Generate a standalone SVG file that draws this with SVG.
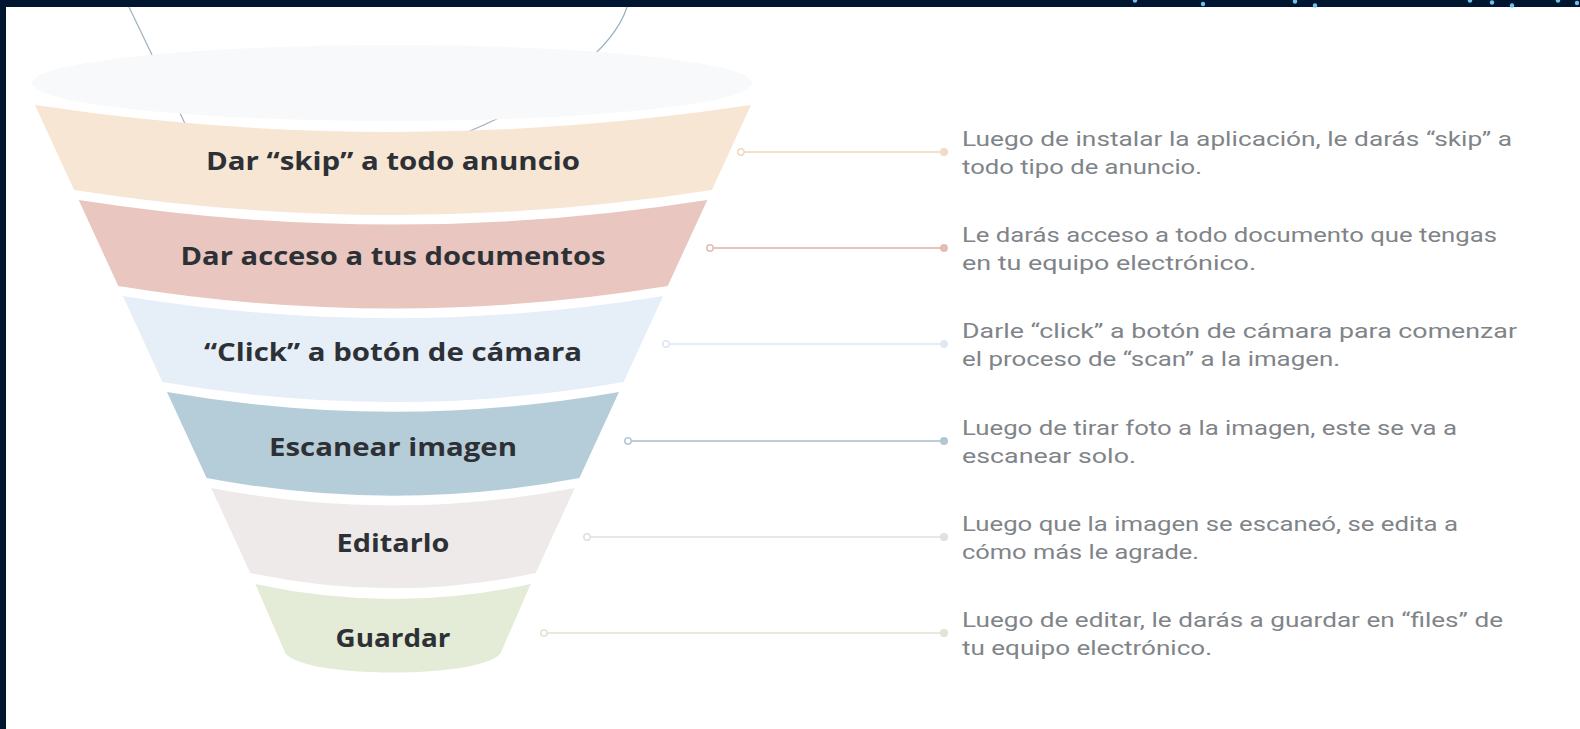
<svg xmlns="http://www.w3.org/2000/svg" width="1580" height="729" viewBox="0 0 1580 729">
<style>
.lbl{font-family:"Open Sans","Liberation Sans",sans-serif;font-weight:700;font-size:25px;fill:#2d3136;text-anchor:middle}
.desc{font-family:Roboto,"Liberation Sans",sans-serif;font-size:21px;fill:#7f8489}
.bgline{fill:none;stroke:#9ab1be;stroke-width:1.2}
.dot{fill:#6cc3ee}
.conn line{stroke-width:2}
.hollow{fill:#fff;stroke-width:1.5}
</style>
<rect width="1580" height="729" fill="#ffffff"/>
<rect x="0" y="0" width="1580" height="7" fill="#00152f"/>
<rect x="0" y="0" width="6" height="729" fill="#00152f"/>
<g id="dots">
<circle class="dot" cx="1135" cy="0.5" r="2.2"/>
<circle class="dot" cx="1203" cy="4" r="2.2"/>
<circle class="dot" cx="1295" cy="1.5" r="2.2"/>
<circle class="dot" cx="1315" cy="5.5" r="2.2"/>
<circle class="dot" cx="1470" cy="0.5" r="2.2"/>
<circle class="dot" cx="1492" cy="2.5" r="2.2"/>
<circle class="dot" cx="1512" cy="5.5" r="2.2"/>
<circle class="dot" cx="1558" cy="0.5" r="2.2"/>
<circle class="dot" cx="1577" cy="3" r="2.2"/>
</g>
<g id="background-lines">
<path class="bgline" d="M129,7 L190,134"/>
<path class="bgline" d="M627,7 C615,45 560,95 458,136"/>
</g>
<g id="funnel-top"><ellipse cx="392" cy="83" rx="360" ry="38" fill="#f8f9fa"/></g>
<g id="band1">
<path d="M35,105 Q393,159 751,105 L711.9,190 Q393,239.8 74.1,190 Z" fill="#f8e6d4"/>
<text class="lbl" x="393" y="170" textLength="374" lengthAdjust="spacingAndGlyphs">Dar “skip” a todo anuncio</text>
</g>
<g id="band2">
<path d="M78.7,200 Q393,249.2 707.3,200 L667.7,286 Q393,331 118.3,286 Z" fill="#e9c6bf"/>
<text class="lbl" x="393" y="265" textLength="425" lengthAdjust="spacingAndGlyphs">Dar acceso a tus documentos</text>
</g>
<g id="band3">
<path d="M122.9,296 Q393,340.4 663.1,296 L623.6,382 Q393,422.2 162.4,382 Z" fill="#e6eef7"/>
<text class="lbl" x="393" y="361" textLength="378" lengthAdjust="spacingAndGlyphs">“Click” a botón de cámara</text>
</g>
<g id="band4">
<path d="M167,392 Q393,431.6 619,392 L579.4,478 Q393,513.4 206.6,478 Z" fill="#b5cdd8"/>
<text class="lbl" x="393" y="456" textLength="248" lengthAdjust="spacingAndGlyphs">Escanear imagen</text>
</g>
<g id="band5">
<path d="M211.2,488 Q393,522.8 574.8,488 L535.7,573 Q393,603.6 250.3,573 Z" fill="#eeeaea"/>
<text class="lbl" x="393" y="552" textLength="113" lengthAdjust="spacingAndGlyphs">Editarlo</text>
</g>
<g id="band6">
<path d="M255.3,584 Q393,614 530.7,584 L502,650 C496,680 290,680 284,650 Z" fill="#e4ebd6"/>
<text class="lbl" x="393" y="647" textLength="115" lengthAdjust="spacingAndGlyphs">Guardar</text>
</g>
<g id="connectors" class="conn">
<line x1="741" y1="152" x2="944" y2="152" stroke="#f4dfca"/>
<circle class="hollow" cx="741" cy="152" r="3.2" stroke="#f1d9c3"/>
<circle cx="944" cy="152" r="4" fill="#f1dac6"/>
<line x1="710" y1="248" x2="944" y2="248" stroke="#e6c3bb"/>
<circle class="hollow" cx="710" cy="248" r="3.2" stroke="#e3bdb4"/>
<circle cx="944" cy="248" r="4" fill="#e3bdb5"/>
<line x1="666" y1="344" x2="944" y2="344" stroke="#e4ecf5"/>
<circle class="hollow" cx="666" cy="344" r="3.2" stroke="#dde6f0"/>
<circle cx="944" cy="344" r="4" fill="#dfe7f1"/>
<line x1="628" y1="441" x2="944" y2="441" stroke="#bccfd9"/>
<circle class="hollow" cx="628" cy="441" r="3.2" stroke="#b3c8d3"/>
<circle cx="944" cy="441" r="4" fill="#b3c7d2"/>
<line x1="587" y1="537" x2="944" y2="537" stroke="#e9e7e5"/>
<circle class="hollow" cx="587" cy="537" r="3.2" stroke="#e2dfdd"/>
<circle cx="944" cy="537" r="4" fill="#e2dfdd"/>
<line x1="544" y1="633" x2="944" y2="633" stroke="#e7ebdd"/>
<circle class="hollow" cx="544" cy="633" r="3.2" stroke="#dfe5d2"/>
<circle cx="944" cy="633" r="4" fill="#dfe5d2"/>
</g>
<g id="descriptions">
<text class="desc" x="962" y="146" textLength="550" lengthAdjust="spacingAndGlyphs">Luego de instalar la aplicación, le darás “skip” a</text>
<text class="desc" x="962" y="174" textLength="240" lengthAdjust="spacingAndGlyphs">todo tipo de anuncio.</text>
<text class="desc" x="962" y="242" textLength="535" lengthAdjust="spacingAndGlyphs">Le darás acceso a todo documento que tengas</text>
<text class="desc" x="962" y="270" textLength="294" lengthAdjust="spacingAndGlyphs">en tu equipo electrónico.</text>
<text class="desc" x="962" y="338" textLength="555" lengthAdjust="spacingAndGlyphs">Darle “click” a botón de cámara para comenzar</text>
<text class="desc" x="962" y="366" textLength="378" lengthAdjust="spacingAndGlyphs">el proceso de “scan” a la imagen.</text>
<text class="desc" x="962" y="435" textLength="495" lengthAdjust="spacingAndGlyphs">Luego de tirar foto a la imagen, este se va a</text>
<text class="desc" x="962" y="463" textLength="174" lengthAdjust="spacingAndGlyphs">escanear solo.</text>
<text class="desc" x="962" y="531" textLength="496" lengthAdjust="spacingAndGlyphs">Luego que la imagen se escaneó, se edita a</text>
<text class="desc" x="962" y="559" textLength="237" lengthAdjust="spacingAndGlyphs">cómo más le agrade.</text>
<text class="desc" x="962" y="627" textLength="541" lengthAdjust="spacingAndGlyphs">Luego de editar, le darás a guardar en “files” de</text>
<text class="desc" x="962" y="655" textLength="250" lengthAdjust="spacingAndGlyphs">tu equipo electrónico.</text>
</g>
</svg>
